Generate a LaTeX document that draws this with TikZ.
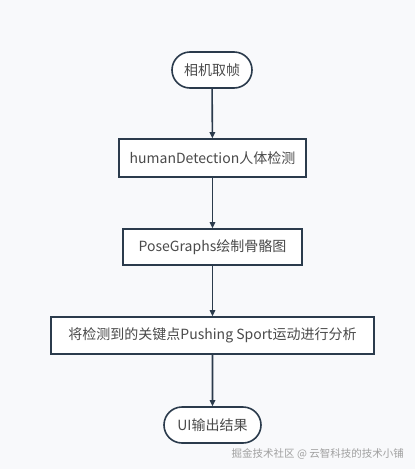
\documentclass[tikz,border=0pt]{standalone}
\usepackage{fontspec}
\setmainfont{Noto Sans CJK SC}
\usetikzlibrary{arrows.meta,shapes.misc}
\definecolor{bg}{HTML}{F8F9FB}
\definecolor{ln}{HTML}{2B3B4C}
\definecolor{tx}{HTML}{4A4A4A}
\definecolor{wm}{HTML}{A0A0A0}
\begin{document}
\begin{tikzpicture}[x=1pt,y=-1pt,
  base/.style={draw=ln,line width=1.6pt,fill=white,text=tx,font=\fontsize{14}{16}\selectfont,inner sep=0pt},
  pill/.style={base,rounded rectangle,minimum height=36pt},
  boxn/.style={base,rectangle,minimum height=37pt},
  conn/.style={draw=ln,line width=1.6pt,-{Triangle[length=6pt,width=5.5pt]}}]
\useasboundingbox[fill=bg] (0,0) rectangle (415,469);
\node[pill,minimum width=80pt] (n1) at (212,70) {相机取帧};
\node[boxn,minimum width=187pt,minimum height=38pt] (n2) at (212.5,158) {humanDetection人体检测};
\node[boxn,minimum width=179pt,minimum height=36pt] (n3) at (212.5,247) {PoseGraphs绘制骨骼图};
\node[boxn,minimum width=323pt] (n4) at (212.5,335.5) {将检测到的关键点Pushing Sport运动进行分析};
\node[pill,minimum width=97pt] (n5) at (212.5,425) {UI输出结果};
\node[text=wm,font=\fontsize{10.5}{12}\selectfont,inner sep=0pt,anchor=east] (wmk) at (404,454) {掘金技术社区 @ 云智科技的技术小铺};
\draw[conn] (n1) -- (n2);
\draw[conn] (n2) -- (n3);
\draw[conn] (n3) -- (n4);
\draw[conn] (n4) -- (n5);
\end{tikzpicture}
\end{document}
